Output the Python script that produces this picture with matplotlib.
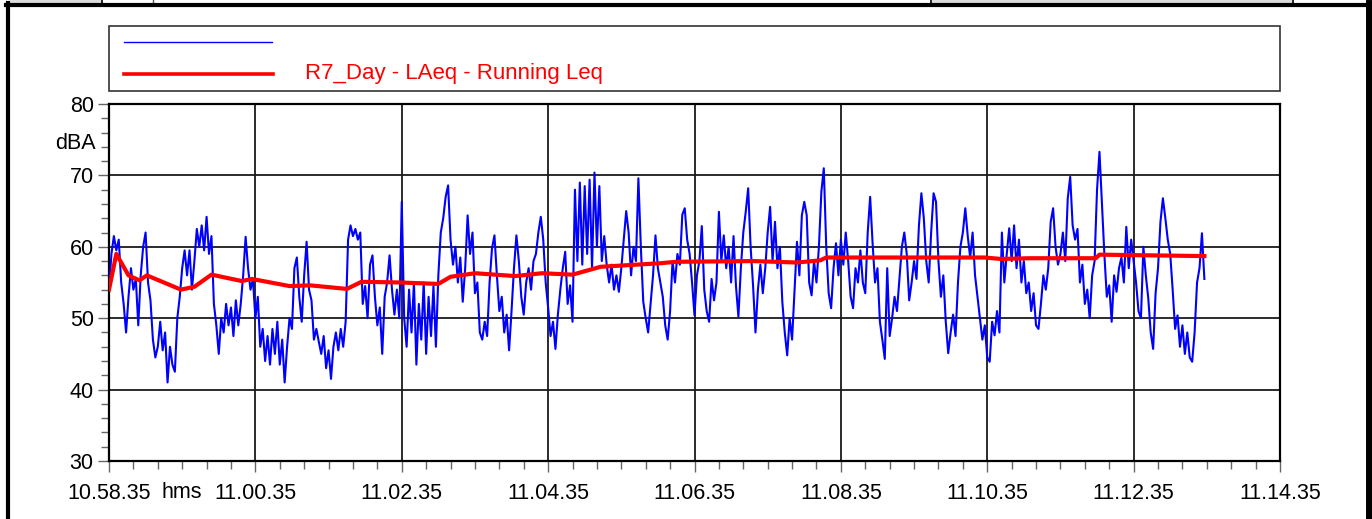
import matplotlib
matplotlib.use('Agg')
import matplotlib.pyplot as plt
import numpy as np
from matplotlib.lines import Line2D
from matplotlib.patches import Rectangle
from matplotlib.ticker import MultipleLocator

plt.rcParams['font.family'] = ['Liberation Sans', 'DejaVu Sans']

# LAeq, one reading every 2 s from 10.58.35
laeq = [
    54.0, 59.0, 61.5, 59.5, 61.0, 55.0, 52.0, 48.0, 53.0, 57.0, 54.0, 55.5, 49.0, 56.0, 60.0,
    62.0, 55.0, 52.5, 47.0, 44.5, 46.0, 49.5, 45.5, 48.0, 41.0, 46.0, 43.5, 42.5, 50.0, 53.0,
    57.0, 59.5, 56.0, 59.5, 54.0, 58.0, 62.5, 60.0, 63.0, 59.5, 64.2, 59.0, 61.5, 52.0, 49.0,
    45.0, 50.0, 48.0, 52.0, 49.0, 51.5, 47.5, 52.5, 49.0, 52.0, 56.0, 61.4, 57.0, 54.0, 55.5,
    50.0, 53.0, 46.0, 48.5, 44.0, 47.5, 43.5, 48.5, 45.0, 49.5, 43.5, 47.0, 41.0, 46.0, 50.0,
    48.5, 57.0, 58.5, 53.0, 49.5, 56.0, 60.7, 54.0, 52.5, 47.0, 48.5, 46.7, 45.0, 47.5, 43.0,
    45.5, 41.5, 46.0, 48.0, 45.5, 48.5, 46.0, 49.5, 61.0, 63.0, 61.5, 62.5, 61.0, 62.0, 52.0,
    54.5, 50.0, 57.5, 58.8, 53.0, 49.0, 51.5, 45.0, 53.0, 55.0, 58.8, 54.0, 50.5, 54.0, 50.0,
    66.3, 50.0, 46.0, 54.0, 48.0, 55.0, 43.5, 52.0, 47.0, 55.0, 45.0, 53.0, 47.5, 54.5, 46.0,
    56.0, 62.0, 64.0, 67.0, 68.6, 61.0, 57.5, 60.0, 55.0, 58.5, 52.3, 57.0, 64.4, 59.0, 62.0,
    53.5, 55.0, 48.0, 47.0, 49.5, 47.5, 55.0, 59.8, 61.6, 56.0, 51.0, 53.0, 48.0, 50.5, 45.5,
    51.0, 57.0, 61.6, 58.0, 53.0, 50.5, 55.0, 57.0, 54.0, 58.0, 59.0, 62.0, 64.2, 61.0, 55.0,
    51.5, 47.5, 49.5, 45.7, 50.5, 54.0, 57.0, 59.3, 52.0, 54.6, 49.5, 68.0, 58.0, 69.0, 57.5,
    68.5, 59.0, 69.4, 57.0, 70.4, 60.0, 68.5, 58.0, 61.5, 57.5, 55.0, 57.5, 54.0, 56.0, 53.7,
    57.0, 61.0, 65.0, 62.0, 56.0, 60.0, 58.0, 69.6, 60.0, 52.3, 50.0, 48.0, 52.0, 56.0, 61.6,
    57.0, 55.0, 53.0, 49.0, 47.0, 51.0, 58.0, 55.0, 59.0, 57.5, 64.5, 65.4, 61.0, 59.0, 55.0,
    50.4, 56.0, 58.0, 62.9, 54.0, 51.0, 49.5, 55.5, 52.5, 55.0, 64.9, 58.0, 61.6, 57.0, 60.0,
    55.0, 61.5, 54.5, 50.2, 57.0, 62.0, 64.9, 68.2, 60.0, 54.6, 48.0, 54.0, 57.5, 53.5, 57.0,
    62.0, 65.6, 58.0, 63.5, 57.0, 60.0, 52.3, 48.0, 44.8, 50.0, 47.0, 54.0, 60.7, 56.0, 64.4,
    66.3, 64.4, 55.0, 53.2, 58.0, 55.0, 60.0, 67.7, 71.0, 60.0, 53.5, 51.4, 57.0, 60.5, 56.0,
    61.0, 57.5, 62.0, 58.0, 53.0, 51.4, 57.0, 55.0, 59.5, 55.0, 53.5, 62.0, 67.0, 60.5, 55.0,
    57.0, 49.5, 47.0, 44.3, 57.0, 47.5, 50.0, 53.0, 51.0, 55.5, 60.0, 62.0, 59.0, 52.5, 55.0,
    58.0, 55.5, 63.0, 67.5, 64.0, 58.0, 55.0, 62.0, 67.5, 66.3, 58.0, 53.0, 56.0, 49.5, 45.1,
    48.0, 50.5, 47.5, 55.0, 60.0, 62.0, 65.4, 61.5, 58.5, 62.0, 56.0, 53.0, 50.0, 47.0, 49.0,
    44.5, 43.9, 49.5, 47.6, 51.0, 48.0, 62.0, 55.0, 59.0, 62.6, 58.0, 63.0, 57.0, 61.0, 55.0,
    58.0, 53.5, 55.0, 51.0, 53.5, 49.0, 48.5, 52.0, 56.0, 54.0, 57.0, 63.5, 65.4, 60.0, 57.5,
    59.0, 62.0, 58.0, 66.8, 69.8, 63.0, 61.0, 62.5, 55.0, 57.5, 52.0, 54.0, 50.0, 56.0, 58.0,
    68.0, 73.3, 66.0, 59.0, 53.0, 54.6, 49.5, 56.0, 53.7, 57.0, 58.5, 55.0, 62.8, 57.0, 61.0,
    58.0, 55.0, 51.0, 50.0, 60.0, 56.0, 52.8, 48.0, 45.7, 53.5, 57.0, 63.5, 66.8, 64.0, 61.0,
    59.0, 54.0, 48.5, 50.4, 46.0, 49.0, 45.0, 48.0, 44.5, 43.9, 48.0, 55.0, 57.0, 61.9, 55.5,
]
laeq_t = np.arange(len(laeq)) * 2

# running Leq, seconds from start
leq_t = [0, 6, 16, 25, 31, 59, 70, 84, 109, 117, 148, 165, 195, 207, 239, 270, 280, 300,
         333, 355, 380, 403, 452, 465, 528, 564, 583, 588, 669, 718, 731, 755, 809, 812, 898]
leq = [54.0, 59.0, 56.0, 55.3, 56.0, 54.0, 54.4, 56.1, 55.2, 55.5, 54.5, 54.6, 54.1, 55.1,
       55.0, 54.8, 55.8, 56.3, 55.9, 56.3, 56.1, 57.2, 57.7, 57.9, 58.0, 57.8, 58.1, 58.5,
       58.5, 58.5, 58.3, 58.4, 58.4, 58.9, 58.7]

tick_labels = ['10.58.35', '11.00.35', '11.02.35', '11.04.35', '11.06.35',
               '11.08.35', '11.10.35', '11.12.35', '11.14.35']
legend_label = 'R7_Day - LAeq - Running Leq'

W, H = 1372, 519
fig = plt.figure(figsize=(W / 100, H / 100), dpi=100)

def fx(px):
    return px / W

def fy(py):
    return 1 - py / H

ax = fig.add_axes([fx(109), fy(461), fx(1280) - fx(109), fy(104) - fy(461)])

ax.plot(laeq_t, laeq, color='#0000ff', lw=1.5, zorder=3)
ax.plot(leq_t, leq, color='#ff0000', lw=3.0, zorder=4, solid_joinstyle='round')

ax.set_xlim(0, 960)
ax.set_ylim(30, 80)
ax.set_xticks(np.arange(0, 961, 120))
ax.set_xticklabels(tick_labels)
ax.xaxis.set_minor_locator(MultipleLocator(20))
ax.set_yticks(np.arange(30, 81, 10))
ax.yaxis.set_minor_locator(MultipleLocator(2))
ax.grid(True, which='major', color='#1a1a1a', lw=1.3, zorder=1)
for s in ax.spines.values():
    s.set_color('black')
    s.set_linewidth(1.6)
ax.tick_params(which='both', direction='out', color='#666666', width=1)
ax.tick_params(which='major', length=8, labelsize=15.5, pad=3)
ax.tick_params(which='minor', length=6)
ax.tick_params(axis='x', which='major', pad=8)

fig.text(fx(75), fy(143), 'dBA', fontsize=15.5, ha='center', va='center')
fig.text(fx(182), fy(493), 'hms', fontsize=15.5, ha='center', va='center')

# legend box
fig.add_artist(Rectangle((fx(109), fy(91)), fx(1280) - fx(109), fy(26) - fy(91),
                         transform=fig.transFigure, fill=False, edgecolor='#333333', lw=1.2))
fig.add_artist(Line2D([fx(124), fx(272)], [fy(42), fy(42)], color='#0000ff', lw=1.0))
fig.add_artist(Line2D([fx(124), fx(273)], [fy(74), fy(74)], color='#ff0000', lw=2.6))
fig.text(fx(305), fy(74), legend_label, fontsize=16, color='#ff0000', ha='left', va='center')

# page frame and header strip
fig.add_artist(Rectangle((fx(10), fy(3)), fx(91), fy(0) - fy(3), transform=fig.transFigure,
                         facecolor='#dcdcdc', edgecolor='none'))
fig.add_artist(Rectangle((fx(932), fy(3)), fx(360), fy(0) - fy(3), transform=fig.transFigure,
                         facecolor='#dcdcdc', edgecolor='none'))
for px in [102, 931, 1293]:
    fig.add_artist(Line2D([fx(px), fx(px)], [fy(0), fy(4)], color='black', lw=1.2))
fig.add_artist(Line2D([fx(153), fx(153)], [fy(0), fy(2)], color='#555555', lw=1.0))
fig.add_artist(Line2D([fx(6), fx(1372)], [fy(4.5), fy(4.5)], color='black', lw=3.0))
fig.add_artist(Line2D([fx(7.5), fx(7.5)], [fy(3), fy(519)], color='black', lw=3.0))
fig.add_artist(Line2D([fx(1368.5), fx(1368.5)], [fy(3), fy(519)], color='black', lw=5.0))

fig.savefig('out.png', dpi=100)
